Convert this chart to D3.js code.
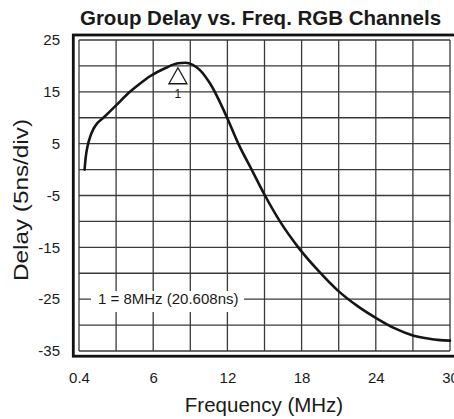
<!DOCTYPE html>
<html>
<head>
<meta charset="utf-8">
<script src="https://cdn.jsdelivr.net/npm/d3@7"></script>
<style>
  html, body { margin: 0; padding: 0; background: #fff; }
  svg { display: block; }
  text { font-family: "Liberation Sans", Arial, Helvetica, sans-serif; fill: #1a1a1a; }
</style>
</head>
<body>
<svg id="chart" width="454" height="419"></svg>
<script>
// ---- data ----
const freqMHz  = [0.45, 0.55, 0.7, 0.9, 1.16, 1.5, 1.97, 3.0, 4.12, 5.0, 5.74, 7.0, 8.0, 8.6, 9.2, 9.78, 10.6, 11.94, 12.88, 13.96, 15.04, 16.25, 17.73, 19.35, 20.96, 22.5, 24.06, 25.5, 27.0, 28.2, 29.2, 30.0];
const delayNs  = [0.0, 2.5, 4.6, 6.3, 7.8, 9.0, 10.0, 12.4, 15.0, 16.7, 18.0, 19.6, 20.5, 20.6, 20.2, 19.2, 16.6, 10.2, 5.0, 0.0, -5.0, -10.0, -15.0, -19.5, -23.4, -26.3, -28.7, -30.6, -32.0, -32.6, -32.9, -33.0];
const xTickValues = [0, 6, 12, 18, 24, 30];
const xTickLabels = ["0.4", "6", "12", "18", "24", "30"];
const yTickValues = [25, 15, 5, -5, -15, -25, -35];
const yTickLabels = ["25", "15", "5", "-5", "-15", "-25", "-35"];
const xGridValues = [0, 3, 6, 9, 12, 15, 18, 21, 24, 27, 30];
const yGridValues = [25, 20, 15, 10, 5, 0, -5, -10, -15, -20, -25, -30, -35];
const markerFreq = [8];
const markerDelay = [20.608];
const markerLabel = ["1"];
const annotationText = "1 = 8MHz (20.608ns)";
const titleText = "Group Delay vs. Freq. RGB Channels";
const xTitle = "Frequency (MHz)";
const yTitle = "Delay (5ns/div)";

// ---- layout ----
const svg = d3.select("#chart");
const L = 79, R = 450, T = 40, B = 351;
const x = d3.scaleLinear().domain([0, 30]).range([L, R]);
const y = d3.scaleLinear().domain([-35, 25]).range([B, T]);

// outer thick frame
svg.append("rect")
  .attr("x", 73.3).attr("y", 35).attr("width", 456 - 73.3).attr("height", 356.2 - 35)
  .attr("fill", "none").attr("stroke", "#111").attr("stroke-width", 2.8);

// grid
const grid = svg.append("g").attr("stroke", "#3a3a3a").attr("stroke-width", 1.3);
grid.selectAll("line.v").data(xGridValues).join("line")
  .attr("x1", d => x(d)).attr("x2", d => x(d)).attr("y1", T).attr("y2", B);
grid.selectAll("line.h").data(yGridValues).join("line")
  .attr("y1", d => y(d)).attr("y2", d => y(d)).attr("x1", L).attr("x2", R);

// annotation box
const annG = svg.append("g");
annG.append("rect").attr("x", 91).attr("y", 291).attr("width", 153).attr("height", 21).attr("fill", "#fff");
annG.append("text").attr("x", 98).attr("y", y(-25)).attr("dy", "0.35em")
  .attr("font-size", 15).text(annotationText);

// curve
const line = d3.line().x((d, i) => x(freqMHz[i])).y((d, i) => y(delayNs[i])).curve(d3.curveMonotoneX);
svg.append("path").datum(freqMHz).attr("d", line)
  .attr("fill", "none").attr("stroke", "#151515").attr("stroke-width", 2.6)
  .attr("stroke-linejoin", "round").attr("stroke-linecap", "round");

// marker triangle
markerFreq.forEach((f, i) => {
  const cx = x(f), cy = y(markerDelay[i]) + 5;
  svg.append("path")
    .attr("d", `M${cx},${cy} L${cx + 9},${cy + 16} L${cx - 9},${cy + 16} Z`)
    .attr("fill", "none").attr("stroke", "#1a1a1a").attr("stroke-width", 1.3);
  svg.append("text").attr("x", cx).attr("y", cy + 30).attr("text-anchor", "middle")
    .attr("font-size", 12).text(markerLabel[i]);
});

// axes
const xAxis = d3.axisBottom(x).tickValues(xTickValues).tickSize(0).tickPadding(21)
  .tickFormat((d, i) => xTickLabels[i]);
const gx = svg.append("g").attr("transform", `translate(0,${B})`).call(xAxis);
gx.select(".domain").remove();
gx.selectAll("text").attr("font-size", 15).attr("font-family", "Liberation Sans, Arial, sans-serif").attr("fill", "#1a1a1a");

const yAxis = d3.axisLeft(y).tickValues(yTickValues).tickSize(0).tickPadding(19)
  .tickFormat((d, i) => yTickLabels[i]);
const gy = svg.append("g").attr("transform", `translate(${L},0)`).call(yAxis);
gy.select(".domain").remove();
gy.selectAll("text").attr("font-size", 15).attr("font-family", "Liberation Sans, Arial, sans-serif").attr("fill", "#1a1a1a");

// titles
svg.append("text").attr("x", 260.5).attr("y", 25).attr("text-anchor", "middle")
  .attr("font-size", 20.5).attr("font-weight", "bold").text(titleText);
svg.append("text").attr("x", 264).attr("y", 411.5).attr("text-anchor", "middle")
  .attr("font-size", 20.5).text(xTitle);
svg.append("text").attr("transform", "translate(28,200) rotate(-90)").attr("text-anchor", "middle")
  .attr("font-size", 20).attr("textLength", 162).attr("lengthAdjust", "spacingAndGlyphs").text(yTitle);
</script>
</body>
</html>
